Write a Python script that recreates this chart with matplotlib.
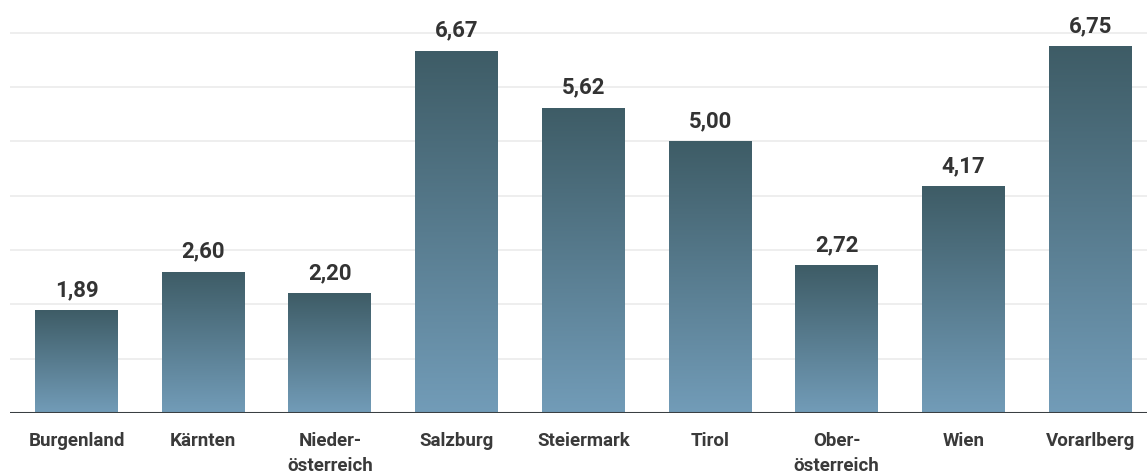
import numpy as np
import matplotlib.pyplot as plt
from matplotlib.colors import LinearSegmentedColormap

# data
regions = ['Burgenland', 'Kärnten', 'Nieder-\nösterreich', 'Salzburg', 'Steiermark',
           'Tirol', 'Ober-\nösterreich', 'Wien', 'Vorarlberg']
values = [1.89, 2.60, 2.20, 6.67, 5.62, 5.00, 2.72, 4.17, 6.75]
grid_levels = [1, 2, 3, 4, 5, 6, 7]

plt.rcParams['font.family'] = ['Roboto', 'DejaVu Sans']

fig = plt.figure(figsize=(11.47, 4.74), dpi=100)
fig.set_facecolor('white')
ax = fig.add_axes([10 / 1147, 61 / 474, 1137 / 1147, 413 / 474])
ax.set_facecolor('white')

x = np.arange(len(values))
ax.set_xlim(-0.525, 8.449)
ax.set_ylim(0, 7.6)

# faint horizontal grid lines
for g in grid_levels:
    ax.axhline(g, color='#ebebeb', lw=1.2, zorder=0)

# bars with a vertical gradient (dark top, light bottom)
cmap = LinearSegmentedColormap.from_list('bar', ['#729cb8', '#3e5c66'])
grad = np.linspace(0, 1, 256).reshape(-1, 1)
bars = ax.bar(x, values, width=0.655, color='none', edgecolor='none', zorder=2)
for b, v in zip(bars, values):
    x0 = b.get_x()
    w = b.get_width()
    im = ax.imshow(grad, cmap=cmap, origin='lower', aspect='auto',
                   extent=(x0, x0 + w, 0, v), zorder=2, interpolation='bilinear')
    im.set_clip_path(b)
    ax.text(b.get_x() + w / 2, v + 0.17, f'{v:.2f}'.replace('.', ','),
            ha='center', va='bottom', fontsize=16, fontweight='bold', color='#333333')

# baseline
ax.axhline(0, color='#3a3f42', lw=2.2, zorder=3)

ax.set_xticks(x)
ax.set_xticklabels(regions, fontsize=13.5, fontweight='bold', color='#3a3a3a',
                   linespacing=1.5, va='top')
ax.tick_params(axis='x', length=0, pad=14)
ax.set_yticks([])
for s in ax.spines.values():
    s.set_visible(False)

fig.savefig('out.png', dpi=100)
